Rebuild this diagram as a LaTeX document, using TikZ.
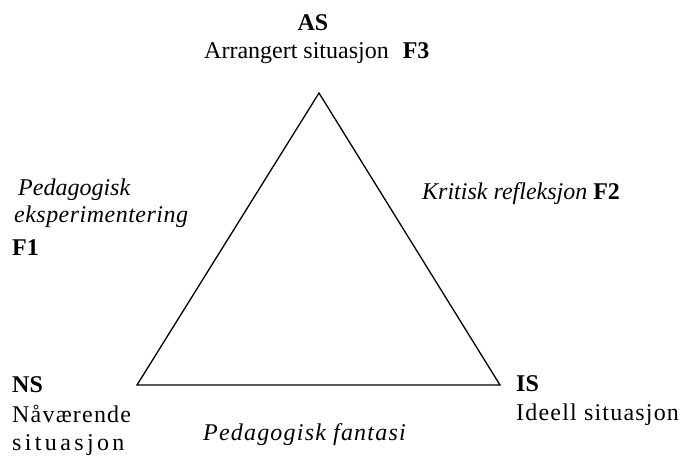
\documentclass[tikz,border=0pt]{standalone}
\usepackage{fontspec}
\setmainfont{Liberation Serif}
\usetikzlibrary{calc}

\begin{document}
\begin{tikzpicture}[x=1pt,y=-1pt,font=\fontsize{24}{28}\selectfont,
  lbl/.style={inner sep=0pt,anchor=base west},
  wide/.style={font=\fontsize{24}{28}\selectfont\addfontfeature{LetterSpace=#1}}]
\useasboundingbox (0,0) rectangle (681,456);
\draw[line width=1.3pt] (137,385)coordinate (N)--(319,93)coordinate (A)--(500,385)coordinate (I)--cycle;
% top corner
\node[lbl,anchor=base] (as) at (313,30) {\textbf{AS}};
\node[lbl] (asn) at (204,58) {Arrangert situasjon\hspace{14pt}\textbf{F3}};
% left side
\node[lbl] (f1a) at (18,195) {\textit{Pedagogisk}};
\node[lbl,wide=2] (f1b) at (14,222) {\textit{eksperimentering}};
\node[lbl] (f1) at (12,255) {\textbf{F1}};
% right side
\node[lbl] (f2) at (422,199) {\textit{Kritisk refleksjon} \textbf{F2}};
% bottom corners
\node[lbl] (ns) at (12,392) {\textbf{NS}};
\node[lbl,wide=5] (nsa) at (12,422) {Nåværende};
\node[lbl,wide=14] (nsb) at (12,450) {situasjon};
\node[lbl] (is) at (516,391) {\textbf{IS}};
\node[lbl,wide=5] (isn) at (516,420) {Ideell situasjon};
\node[lbl,wide=5] (fa) at (203,440) {\textit{Pedagogisk fantasi}};
\end{tikzpicture}
\end{document}
